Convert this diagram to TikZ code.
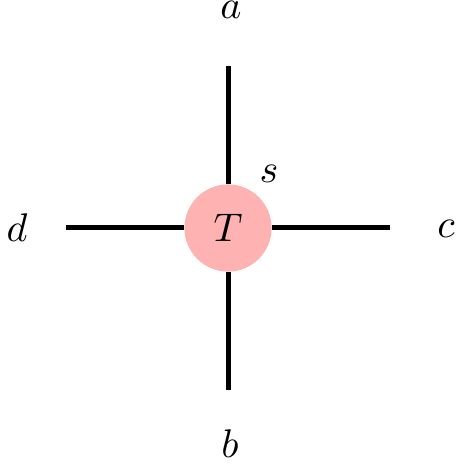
\documentclass[tikz,border=0pt]{standalone}
\usetikzlibrary{positioning}
\tikzset{
  tensor/.style={circle,fill=red!30,minimum size=21.8pt,inner sep=0pt},
  leg/.style={line width=1.25pt},
  idx/.style={inner sep=1pt}
}
\begin{document}
\begin{tikzpicture}
\useasboundingbox (-57pt,-60pt) rectangle (57.5pt,57pt);
\node[tensor] (T) at (0,0) {$T$};
% free ends of the legs
\coordinate (ua) at (0,40.5pt);
\coordinate (ub) at (0,-40.5pt);
\coordinate (uc) at (40.5pt,0);
\coordinate (ud) at (-40.5pt,0);
\draw[leg] (T) -- (ua);
\draw[leg] (T) -- (ub);
\draw[leg] (T) -- (uc);
\draw[leg] (T) -- (ud);
\node[idx] (a) at (0.75pt,54.4pt) {$a$};
\node[idx] (b) at (0.5pt,-54pt) {$b$};
\node[idx] (c) at (54.5pt,-0.3pt) {$c$};
\node[idx] (d) at (-52.75pt,0) {$d$};
\node[idx] (s) at (10.25pt,13.6pt) {$s$};
\end{tikzpicture}
\end{document}
